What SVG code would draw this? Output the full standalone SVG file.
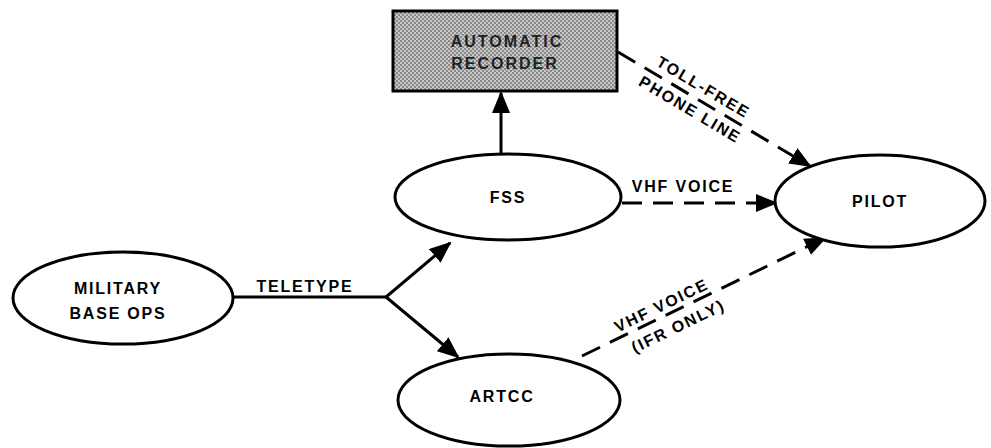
<svg xmlns="http://www.w3.org/2000/svg" width="991" height="448" viewBox="0 0 991 448">
<style>
.node{fill:#fff;stroke:#000;stroke-width:3}
.lbl{font-family:"Liberation Sans",Arial,sans-serif;font-weight:bold;font-size:16px;letter-spacing:1.8px;fill:#000;text-anchor:middle}
.rec{font-family:"Liberation Sans",Arial,sans-serif;font-weight:bold;font-size:16px;letter-spacing:2px;fill:#222;text-anchor:middle}
.ln{fill:none;stroke:#000;stroke-width:3}
.dash{fill:none;stroke:#000;stroke-width:3;stroke-dasharray:20 11}
</style>
<defs>
<marker id="ah" markerUnits="userSpaceOnUse" markerWidth="22" markerHeight="18" refX="20" refY="9" orient="auto">
<path d="M0,0 L22,9 L0,18 z" fill="#000"/>
</marker>
<pattern id="stip" width="4" height="4" patternUnits="userSpaceOnUse">
<rect width="4" height="4" fill="#c8c8c8"/>
<rect width="2" height="2" fill="#8a8a8a"/>
<rect x="2" y="2" width="2" height="2" fill="#8a8a8a"/>
</pattern>
</defs>
<rect width="991" height="448" fill="#fff"/>
<g id="connectors">
<line class="ln" x1="233" y1="297" x2="386" y2="297"/>
<line class="ln" x1="386" y1="297" x2="450" y2="243" marker-end="url(#ah)"/>
<line class="ln" x1="386" y1="297" x2="458" y2="357" marker-end="url(#ah)"/>
<line class="ln" x1="501" y1="154" x2="501" y2="93" marker-end="url(#ah)"/>
<line class="dash" x1="622" y1="203" x2="776" y2="203" marker-end="url(#ah)"/>
<line class="dash" x1="582" y1="356" x2="825" y2="238" marker-end="url(#ah)"/>
<line class="dash" x1="618" y1="52" x2="810" y2="166" marker-end="url(#ah)"/>
<text class="lbl" x="305" y="292">TELETYPE</text>
<text class="lbl" x="683" y="192">VHF VOICE</text>
<g transform="translate(697,98) rotate(30.7)">
<text class="lbl" x="0" y="-7">TOLL-FREE</text>
<text class="lbl" x="0" y="19">PHONE LINE</text>
</g>
<g transform="translate(670,314) rotate(-25.9)">
<text class="lbl" x="-4" y="-6">VHF VOICE</text>
<text class="lbl" x="2" y="20">(IFR ONLY)</text>
</g>
</g>
<g id="recorder">
<rect x="393" y="11" width="224" height="80" fill="url(#stip)" stroke="#000" stroke-width="3"/>
<text class="rec" x="507" y="47">AUTOMATIC</text>
<text class="rec" x="505" y="69">RECORDER</text>
</g>
<g id="fss">
<ellipse class="node" cx="508" cy="197" rx="113" ry="43"/>
<text class="lbl" x="508" y="203">FSS</text>
</g>
<g id="pilot">
<ellipse class="node" cx="880" cy="201" rx="105" ry="46"/>
<text class="lbl" x="880" y="207">PILOT</text>
</g>
<g id="military">
<ellipse class="node" cx="123" cy="298" rx="110" ry="46"/>
<text class="lbl" x="118" y="294">MILITARY</text>
<text class="lbl" x="118" y="319">BASE OPS</text>
</g>
<g id="artcc">
<ellipse class="node" cx="509" cy="400" rx="111" ry="46"/>
<text class="lbl" x="502" y="402">ARTCC</text>
</g>
</svg>
